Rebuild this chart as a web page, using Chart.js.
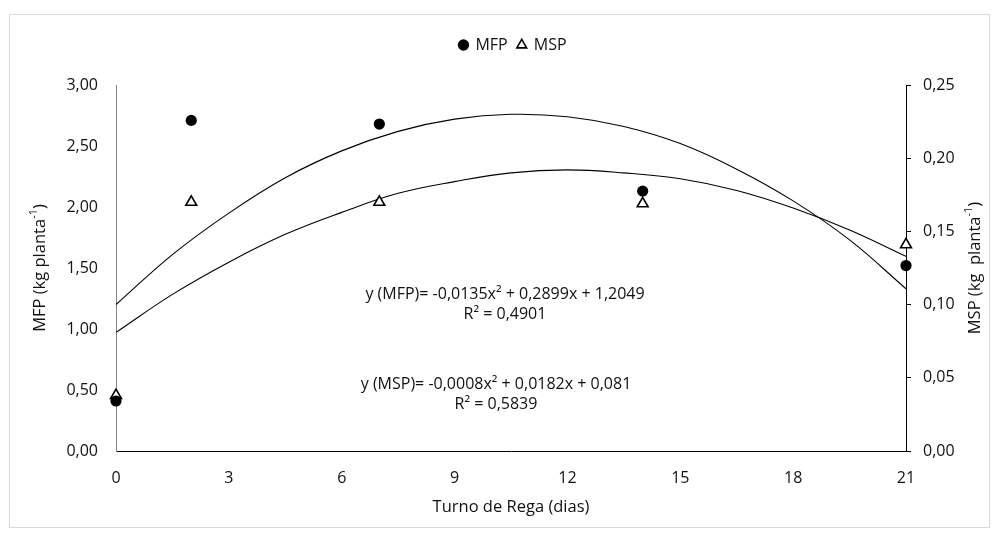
<!DOCTYPE html>
<html>
<head>
<meta charset="utf-8">
<script src="https://cdn.jsdelivr.net/npm/chart.js@4.4.0/dist/chart.umd.min.js"></script>
<style>
  html, body { margin: 0; padding: 0; background: #fff; }
  #wrap { position: relative; width: 998px; height: 536px; }
</style>
</head>
<body>
<div id="wrap"><canvas id="grafico" width="998" height="536"></canvas></div>
<script>
// dados
const dias = [0, 2, 7, 14, 21];
const mfp = [0.41, 2.71, 2.68, 2.13, 1.52];
const msp = [0.038, 0.170, 0.170, 0.169, 0.141];

// linhas de tendência
const curvaX = [0, 1.5, 3, 4.5, 6, 7.5, 9, 10.5, 12, 13.5, 15, 16.5, 18, 19.5, 21];
const curvaMFP = [1.20, 1.61, 1.95, 2.24, 2.46, 2.62, 2.72, 2.76, 2.74, 2.66, 2.52, 2.31, 2.05, 1.73, 1.33];
const curvaMSP = [0.081, 0.107, 0.129, 0.148, 0.163, 0.176, 0.184, 0.190, 0.192, 0.190, 0.186, 0.178, 0.166, 0.151, 0.133];

const equacoes = [
    { texto: 'y (MFP)= -0,0135x² + 0,2899x + 1,2049', x: 505, y: 294 },
    { texto: 'R² = 0,4901', x: 505, y: 314 },
    { texto: 'y (MSP)= -0,0008x² + 0,0182x + 0,081', x: 496, y: 384 },
    { texto: 'R² = 0,5839', x: 496, y: 404 }
];

const FONTE = '"Open Sans", "DejaVu Sans", sans-serif';
const COR_TEXTO = '#111';

const pares = (xs, ys) => xs.map((x, i) => ({ x: x, y: ys[i] }));
const virgula = v => Number(v).toFixed(2).replace('.', ',');

// texto com sobrescrito (kg planta-1)
function textoComExpoente(ctx, partes, cx, cy, rot) {
    ctx.save();
    ctx.translate(cx, cy);
    ctx.rotate(rot);
    ctx.textBaseline = 'middle';
    ctx.textAlign = 'left';
    let total = 0;
    partes.forEach(p => {
        ctx.font = (p.sup ? 11 : 16.5) + 'px ' + FONTE;
        total += ctx.measureText(p.t).width;
    });
    let x = -total / 2;
    partes.forEach(p => {
        ctx.font = (p.sup ? 11 : 16.5) + 'px ' + FONTE;
        ctx.fillText(p.t, x, p.sup ? -6 : 0);
        x += ctx.measureText(p.t).width;
    });
    ctx.restore();
}

const decoracoes = {
    id: 'decoracoes',
    beforeDraw(chart) {
        const ctx = chart.ctx;
        ctx.save();
        ctx.strokeStyle = '#d9d9d9';
        ctx.lineWidth = 1;
        ctx.strokeRect(9.5, 14.5, 980, 513);
        ctx.restore();
    },
    afterDraw(chart) {
        const ctx = chart.ctx;
        ctx.save();
        ctx.fillStyle = COR_TEXTO;
        ctx.font = '16.5px ' + FONTE;
        ctx.textAlign = 'center';
        ctx.textBaseline = 'middle';
        ctx.fillText('Turno de Rega (dias)', 511, 507);

        textoComExpoente(ctx, [{ t: 'MFP (kg planta' }, { t: '-1', sup: true }, { t: ')' }], 40, 268, -Math.PI / 2);
        textoComExpoente(ctx, [{ t: 'MSP (kg  planta' }, { t: '-1', sup: true }, { t: ')' }], 975, 268, -Math.PI / 2);

        ctx.font = '16px ' + FONTE;
        ctx.textAlign = 'center';
        ctx.textBaseline = 'middle';
        equacoes.forEach(e => ctx.fillText(e.texto, e.x, e.y));
        ctx.restore();
    }
};

// altura fixa da legenda para posicionar a área do gráfico
const alturaLegenda = {
    id: 'alturaLegenda',
    beforeLayout(chart) {
        const lg = chart.legend;
        if (lg && !lg._fixo) {
            const fit = lg.fit;
            lg.fit = function () { fit.call(this); this.height = 58; };
            lg._fixo = true;
        }
    }
};

new Chart(document.getElementById('grafico'), {
    type: 'scatter',
    data: {
        datasets: [
            {
                label: 'MFP',
                data: pares(dias, mfp),
                yAxisID: 'yMFP',
                clip: false,
                pointStyle: 'circle',
                pointRadius: 5.6,
                backgroundColor: '#000',
                borderColor: '#000',
                borderWidth: 0
            },
            {
                label: 'MSP',
                data: pares(dias, msp),
                yAxisID: 'yMSP',
                clip: false,
                pointStyle: 'triangle',
                pointRadius: 6.3,
                backgroundColor: '#fff',
                borderColor: '#000',
                borderWidth: 1.6
            },
            {
                label: '',
                data: pares(curvaX, curvaMFP),
                yAxisID: 'yMFP',
                showLine: true,
                pointRadius: 0,
                borderColor: '#000',
                borderWidth: 1.1,
                tension: 0.4
            },
            {
                label: '',
                data: pares(curvaX, curvaMSP),
                yAxisID: 'yMSP',
                showLine: true,
                pointRadius: 0,
                borderColor: '#000',
                borderWidth: 1.1,
                tension: 0.4
            }
        ]
    },
    options: {
        responsive: false,
        animation: false,
        layout: { padding: { top: 27, left: 28, right: 0, bottom: 0 } },
        plugins: {
            tooltip: { enabled: false },
            legend: {
                position: 'top',
                labels: {
                    usePointStyle: true,
                    boxWidth: 8,
                    boxHeight: 8,
                    padding: 10,
                    color: COR_TEXTO,
                    font: { family: FONTE, size: 16 },
                    filter: item => item.text !== ''
                }
            }
        },
        scales: {
            x: {
                type: 'linear',
                min: 0,
                max: 21,
                ticks: { stepSize: 3, padding: 18, color: COR_TEXTO, font: { family: FONTE, size: 16 } },
                grid: { display: false, drawTicks: false },
                border: { color: '#000', width: 1 },
                afterFit(s) { s.height = 85; }
            },
            yMFP: {
                position: 'left',
                min: 0,
                max: 3,
                ticks: { stepSize: 0.5, padding: 18, color: COR_TEXTO, font: { family: FONTE, size: 16 }, callback: virgula },
                grid: { display: false, drawTicks: false },
                border: { color: '#868686', width: 1 },
                afterFit(s) { s.width = 88; }
            },
            yMSP: {
                position: 'right',
                min: 0,
                max: 0.25,
                ticks: { stepSize: 0.05, padding: 12, color: COR_TEXTO, font: { family: FONTE, size: 16 }, callback: virgula },
                grid: { display: true, drawOnChartArea: false, drawTicks: true, tickLength: 5, color: '#000' },
                border: { color: '#000', width: 1 },
                afterFit(s) { s.width = 92; }
            }
        }
    },
    plugins: [decoracoes, alturaLegenda]
});
</script>
</body>
</html>
